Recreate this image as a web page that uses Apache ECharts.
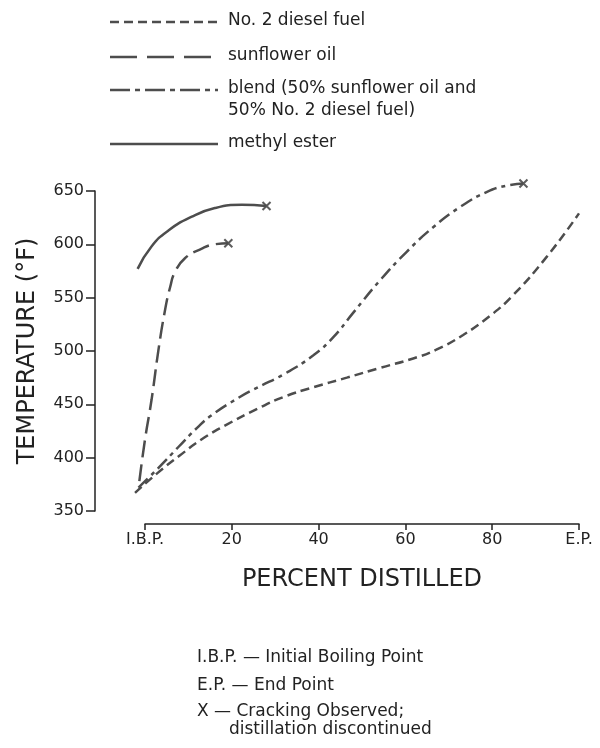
<!DOCTYPE html>
<html>
<head>
<meta charset="utf-8">
<script src="https://cdn.jsdelivr.net/npm/echarts@6/dist/echarts.min.js"></script>
<style>
  html, body { margin: 0; padding: 0; background: #fff; }
  #chart { width: 600px; height: 748px; }
</style>
</head>
<body>
<div id="chart"></div>
<script>
// Distillation curves: temperature (°F) against percent distilled (0 = I.B.P., 100 = E.P.)
const dieselFuel = [[-2.3, 367], [3, 386], [8, 402], [13, 417], [18.4, 430], [26, 446], [32, 457], [38.8, 466],
  [46.5, 475], [54, 484], [61.8, 493], [67, 501], [73.3, 515], [79.5, 533], [84.5, 551], [92.5, 588], [100, 629]];
const sunflowerOil = [[-1.3, 378], [0, 417], [1.5, 454], [3.1, 501], [4.6, 538], [5.8, 560], [6.9, 574],
  [9.2, 587], [13.1, 596], [16, 600], [19.2, 601]];
const blend = [[-1.5, 372], [3, 390], [7.7, 410], [12, 428], [15.4, 440], [21.5, 456], [26, 466], [31.9, 478],
  [38.8, 496], [43.4, 513], [48, 536], [54.1, 566], [60.3, 593], [66.4, 616], [72.6, 635], [78.7, 649],
  [83.3, 655], [87.2, 657]];
const methylEster = [[-1.7, 577], [1.5, 598], [5.4, 613], [10.8, 626], [16.1, 634], [22.3, 637], [28, 636]];

const xTicks = [0, 20, 40, 60, 80, 100];
const xTickLabels = { 0: 'I.B.P.', 100: 'E.P.' };
const yTicks = [350, 400, 450, 500, 550, 600, 650];

// Runs stopped where cracking was observed (last point of each of these curves)
const crackedRuns = [sunflowerOil, blend, methylEster];

const FONT = 'DejaVu Sans';
const INK = '#222';
const CURVE = '#4d4d4d';

// Axis frame: x axis spans I.B.P. to E.P., y axis 350 to 650 °F.
// Curves start a little before I.B.P. and the blend tops out above 650, so they are
// drawn in a larger grid that keeps exactly the same scale.
const PLOT_LEFT = 145, PLOT_RIGHT = 21, PLOT_TOP = 191, PLOT_BOTTOM = 237;
const Y_MIN = 350, Y_MAX = 650;
const PX_PER_PCT = (600 - PLOT_LEFT - PLOT_RIGHT) / 100;
const PX_PER_DEG = (748 - PLOT_TOP - PLOT_BOTTOM) / (Y_MAX - Y_MIN);
const LEAD_X = 4;   // extra percent left of I.B.P.
const HEAD_Y = 20;  // extra °F above 650
const Y_AXIS_X = 95;

const legendRows = [
  { text: 'No. 2 diesel fuel', y: 22, dash: [9, 5] },
  { text: 'sunflower oil', y: 57, dash: [27, 10] },
  { text: 'blend (50% sunflower oil and\n50% No. 2 diesel fuel)', y: 90, dash: [20, 5, 5, 5] },
  { text: 'methyl ester', y: 144, dash: null }
];

const notes = [
  { text: 'I.B.P. — Initial Boiling Point', x: 197, y: 658 },
  { text: 'E.P. — End Point', x: 197, y: 686 },
  { text: 'X — Cracking Observed;', x: 197, y: 712 },
  { text: 'distillation discontinued', x: 229, y: 730 }
];

const graphic = [];
legendRows.forEach(r => {
  graphic.push({
    type: 'polyline',
    shape: { points: [[110, r.y], [218, r.y]] },
    style: { stroke: CURVE, lineWidth: 2.5, lineDash: r.dash || null, fill: null }
  });
  graphic.push({
    type: 'text',
    x: 228, y: r.y - 12,
    style: { text: r.text, font: '17px "' + FONT + '"', fill: INK, lineHeight: 22, verticalAlign: 'top' }
  });
});
notes.forEach(n => {
  graphic.push({
    type: 'text', x: n.x, y: n.y,
    style: { text: n.text, font: '17px "' + FONT + '"', fill: INK, verticalAlign: 'middle' }
  });
});

function curve(name, data, dash) {
  return {
    name, type: 'line', data, smooth: 0.5, symbol: 'none',
    xAxisIndex: 1, yAxisIndex: 1,
    lineStyle: { color: CURVE, width: 2.5, type: dash || 'solid' }
  };
}

const option = {
  animation: false,
  backgroundColor: '#fff',
  grid: [
    { left: PLOT_LEFT, right: PLOT_RIGHT, top: PLOT_TOP, bottom: PLOT_BOTTOM },
    {
      left: PLOT_LEFT - LEAD_X * PX_PER_PCT, right: PLOT_RIGHT,
      top: PLOT_TOP - HEAD_Y * PX_PER_DEG, bottom: PLOT_BOTTOM
    }
  ],
  xAxis: [
    {
      gridIndex: 0, type: 'value', min: 0, max: 100, interval: 20, offset: 13,
      axisLine: { onZero: false, lineStyle: { color: INK, width: 1.5 } },
      axisTick: { length: 6, lineStyle: { color: INK, width: 1.5 } },
      splitLine: { show: false },
      axisLabel: {
        color: INK, fontFamily: FONT, fontSize: 16, margin: 8,
        customValues: xTicks,
        formatter: v => xTickLabels[v] || String(v)
      },
      name: 'PERCENT DISTILLED', nameLocation: 'middle', nameGap: 44,
      nameTextStyle: { color: INK, fontFamily: FONT, fontSize: 24 }
    },
    { gridIndex: 1, type: 'value', min: -LEAD_X, max: 100, show: false }
  ],
  yAxis: [
    {
      gridIndex: 0, type: 'value', min: Y_MIN, max: Y_MAX, interval: 50, offset: PLOT_LEFT - Y_AXIS_X,
      axisLine: { show: true, onZero: false, lineStyle: { color: INK, width: 1.5 } },
      axisTick: { show: true, length: 9, lineStyle: { color: INK, width: 1.5 } },
      splitLine: { show: false },
      axisLabel: { color: INK, fontFamily: FONT, fontSize: 16, margin: 11, customValues: yTicks },
      name: 'TEMPERATURE (°F)', nameLocation: 'middle', nameGap: 55, nameRotate: 90,
      nameTextStyle: { color: INK, fontFamily: FONT, fontSize: 24 }
    },
    { gridIndex: 1, type: 'value', min: Y_MIN, max: Y_MAX + HEAD_Y, show: false }
  ],
  series: [
    curve('No. 2 diesel fuel', dieselFuel, [9, 5]),
    curve('sunflower oil', sunflowerOil, [17, 7]),
    curve('blend', blend, [13, 5, 4, 5]),
    curve('methyl ester', methylEster),
    {
      name: 'cracking', type: 'scatter', xAxisIndex: 1, yAxisIndex: 1,
      data: crackedRuns.map(d => d[d.length - 1]),
      symbol: 'path://M0,0L10,10M10,0L0,10', symbolSize: 8,
      itemStyle: { color: 'none', borderColor: '#333', borderWidth: 2 }
    }
  ],
  graphic
};

const chart = echarts.init(document.getElementById('chart'), null, { renderer: 'canvas' });
chart.setOption(option);
</script>
</body>
</html>
